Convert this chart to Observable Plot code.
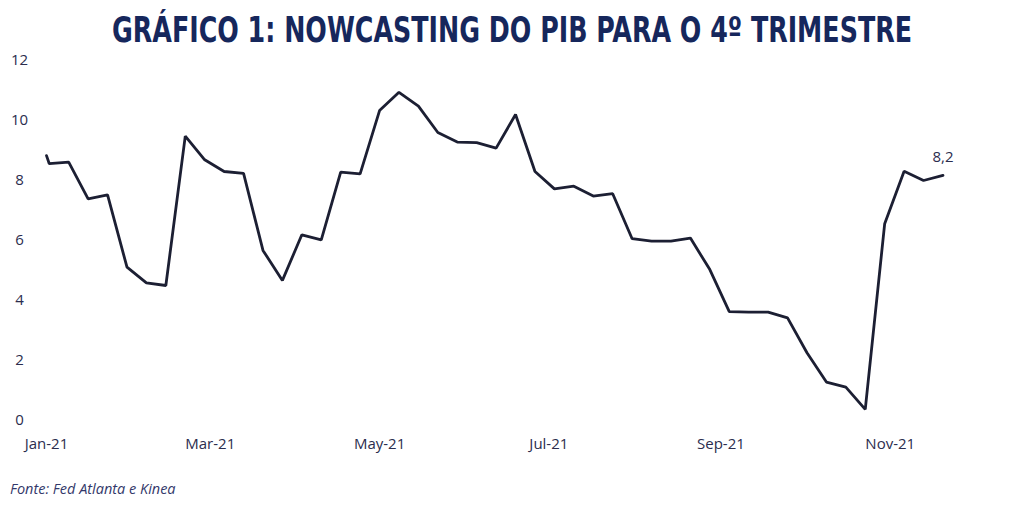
<!DOCTYPE html>
<html>
<head>
<meta charset="utf-8">
<script src="https://cdn.jsdelivr.net/npm/d3@7"></script>
<script src="https://cdn.jsdelivr.net/npm/@observablehq/plot@0.6"></script>
<style>
  html, body { margin: 0; padding: 0; background: #fff; }
  #wrap { position: relative; width: 1024px; height: 509px; overflow: hidden; }
  #title { height: 50px; text-align: center; color: #16275c; position: relative;
    font-family: "DejaVu Sans Condensed", "DejaVu Sans", sans-serif; font-weight: bold; font-stretch: condensed;
    font-size: 36px; white-space: nowrap; }
  #title span { display: inline-block; position: absolute; left: 512px; top: 10px; line-height: 40px;
    transform-origin: 0 0; }
  #caption { height: 39px; padding-left: 10px; box-sizing: border-box; padding-top: 9px;
    font-family: "Open Sans", sans-serif; font-style: italic; font-size: 14.5px; color: #33386a; }
  svg { display: block; }
</style>
</head>
<body>
<div id="wrap">
  <div id="title"><span>GRÁFICO 1: NOWCASTING DO PIB PARA O 4º TRIMESTRE</span></div>
  <div id="chart"></div>
  <div id="caption">Fonte: Fed Atlanta e Kinea</div>
</div>
<script>
const dates = [
  "2021-01-01",
  "2021-01-02","2021-01-09","2021-01-16","2021-01-23","2021-01-30",
  "2021-02-06","2021-02-13","2021-02-20","2021-02-27",
  "2021-03-06","2021-03-13","2021-03-20","2021-03-27",
  "2021-04-03","2021-04-10","2021-04-17","2021-04-24",
  "2021-05-01","2021-05-08","2021-05-15","2021-05-22","2021-05-29",
  "2021-06-05","2021-06-12","2021-06-19","2021-06-26",
  "2021-07-03","2021-07-10","2021-07-17","2021-07-24","2021-07-31",
  "2021-08-07","2021-08-14","2021-08-21","2021-08-28",
  "2021-09-04","2021-09-11","2021-09-18","2021-09-25",
  "2021-10-02","2021-10-09","2021-10-16","2021-10-23","2021-10-30",
  "2021-11-06","2021-11-13","2021-11-20"
];
const values = [
  8.83,
  8.56, 8.61, 7.39, 7.52, 5.11,
  4.59, 4.50, 9.48, 8.69,
  8.30, 8.24, 5.67, 4.67,
  6.19, 6.02, 8.28, 8.22,
  10.33, 10.94, 10.48, 9.60, 9.28,
  9.26, 9.08, 10.20, 8.30,
  7.72, 7.81, 7.48, 7.56, 6.06,
  5.98, 5.98, 6.08, 5.03,
  3.63, 3.61, 3.61, 3.42,
  2.26, 1.28, 1.11, 0.37, 6.56,
  8.31, 8.00, 8.17
];
const yTicks = [0, 2, 4, 6, 8, 10, 12];
const xTicks = ["2021-01-01","2021-03-01","2021-05-01","2021-07-01","2021-09-01","2021-11-01"];
const lastLabel = "8,2";

const data = dates.map((d, i) => ({date: new Date(d + "T00:00:00Z"), value: values[i]}));
const last = data[data.length - 1];

const fmt = d3.utcFormat("%b-%y");

const chart = Plot.plot({
  width: 1024,
  height: 420,
  marginLeft: 46,
  marginRight: 51,
  marginTop: 10,
  marginBottom: 50,
  style: {fontFamily: "Open Sans, sans-serif", fontSize: "15px", color: "#2b2d4e", background: "#fff"},
  x: {type: "utc", domain: [new Date("2021-01-01T00:00:00Z"), new Date("2021-12-01T00:00:00Z")]},
  y: {domain: [0, 12]},
  marks: [
    Plot.axisY({ticks: yTicks, tickSize: 0, tickPadding: 27, textAnchor: "middle", label: null,
      tickFormat: d => String(d), fill: "#2b2d4e"}),
    Plot.axisX({ticks: xTicks.map(d => new Date(d + "T00:00:00Z")), tickSize: 0, tickPadding: 18,
      label: null, tickFormat: fmt, fill: "#2b2d4e"}),
    Plot.line(data, {x: "date", y: "value", stroke: "#1c1f33", strokeWidth: 2.8, strokeLinejoin: "miter"}),
    Plot.text([last], {x: "date", y: "value", text: () => lastLabel, dy: -18, fill: "#2b2d4e", fontSize: 15})
  ]
});
document.getElementById("chart").appendChild(chart);

// fit the title to the reference's width (about 800px), centred
const span = document.querySelector("#title span");
const w = span.getBoundingClientRect().width;
const s = 800 / w;
span.style.transform = `translateX(${-400}px) scaleX(${s})`;
</script>
</body>
</html>
